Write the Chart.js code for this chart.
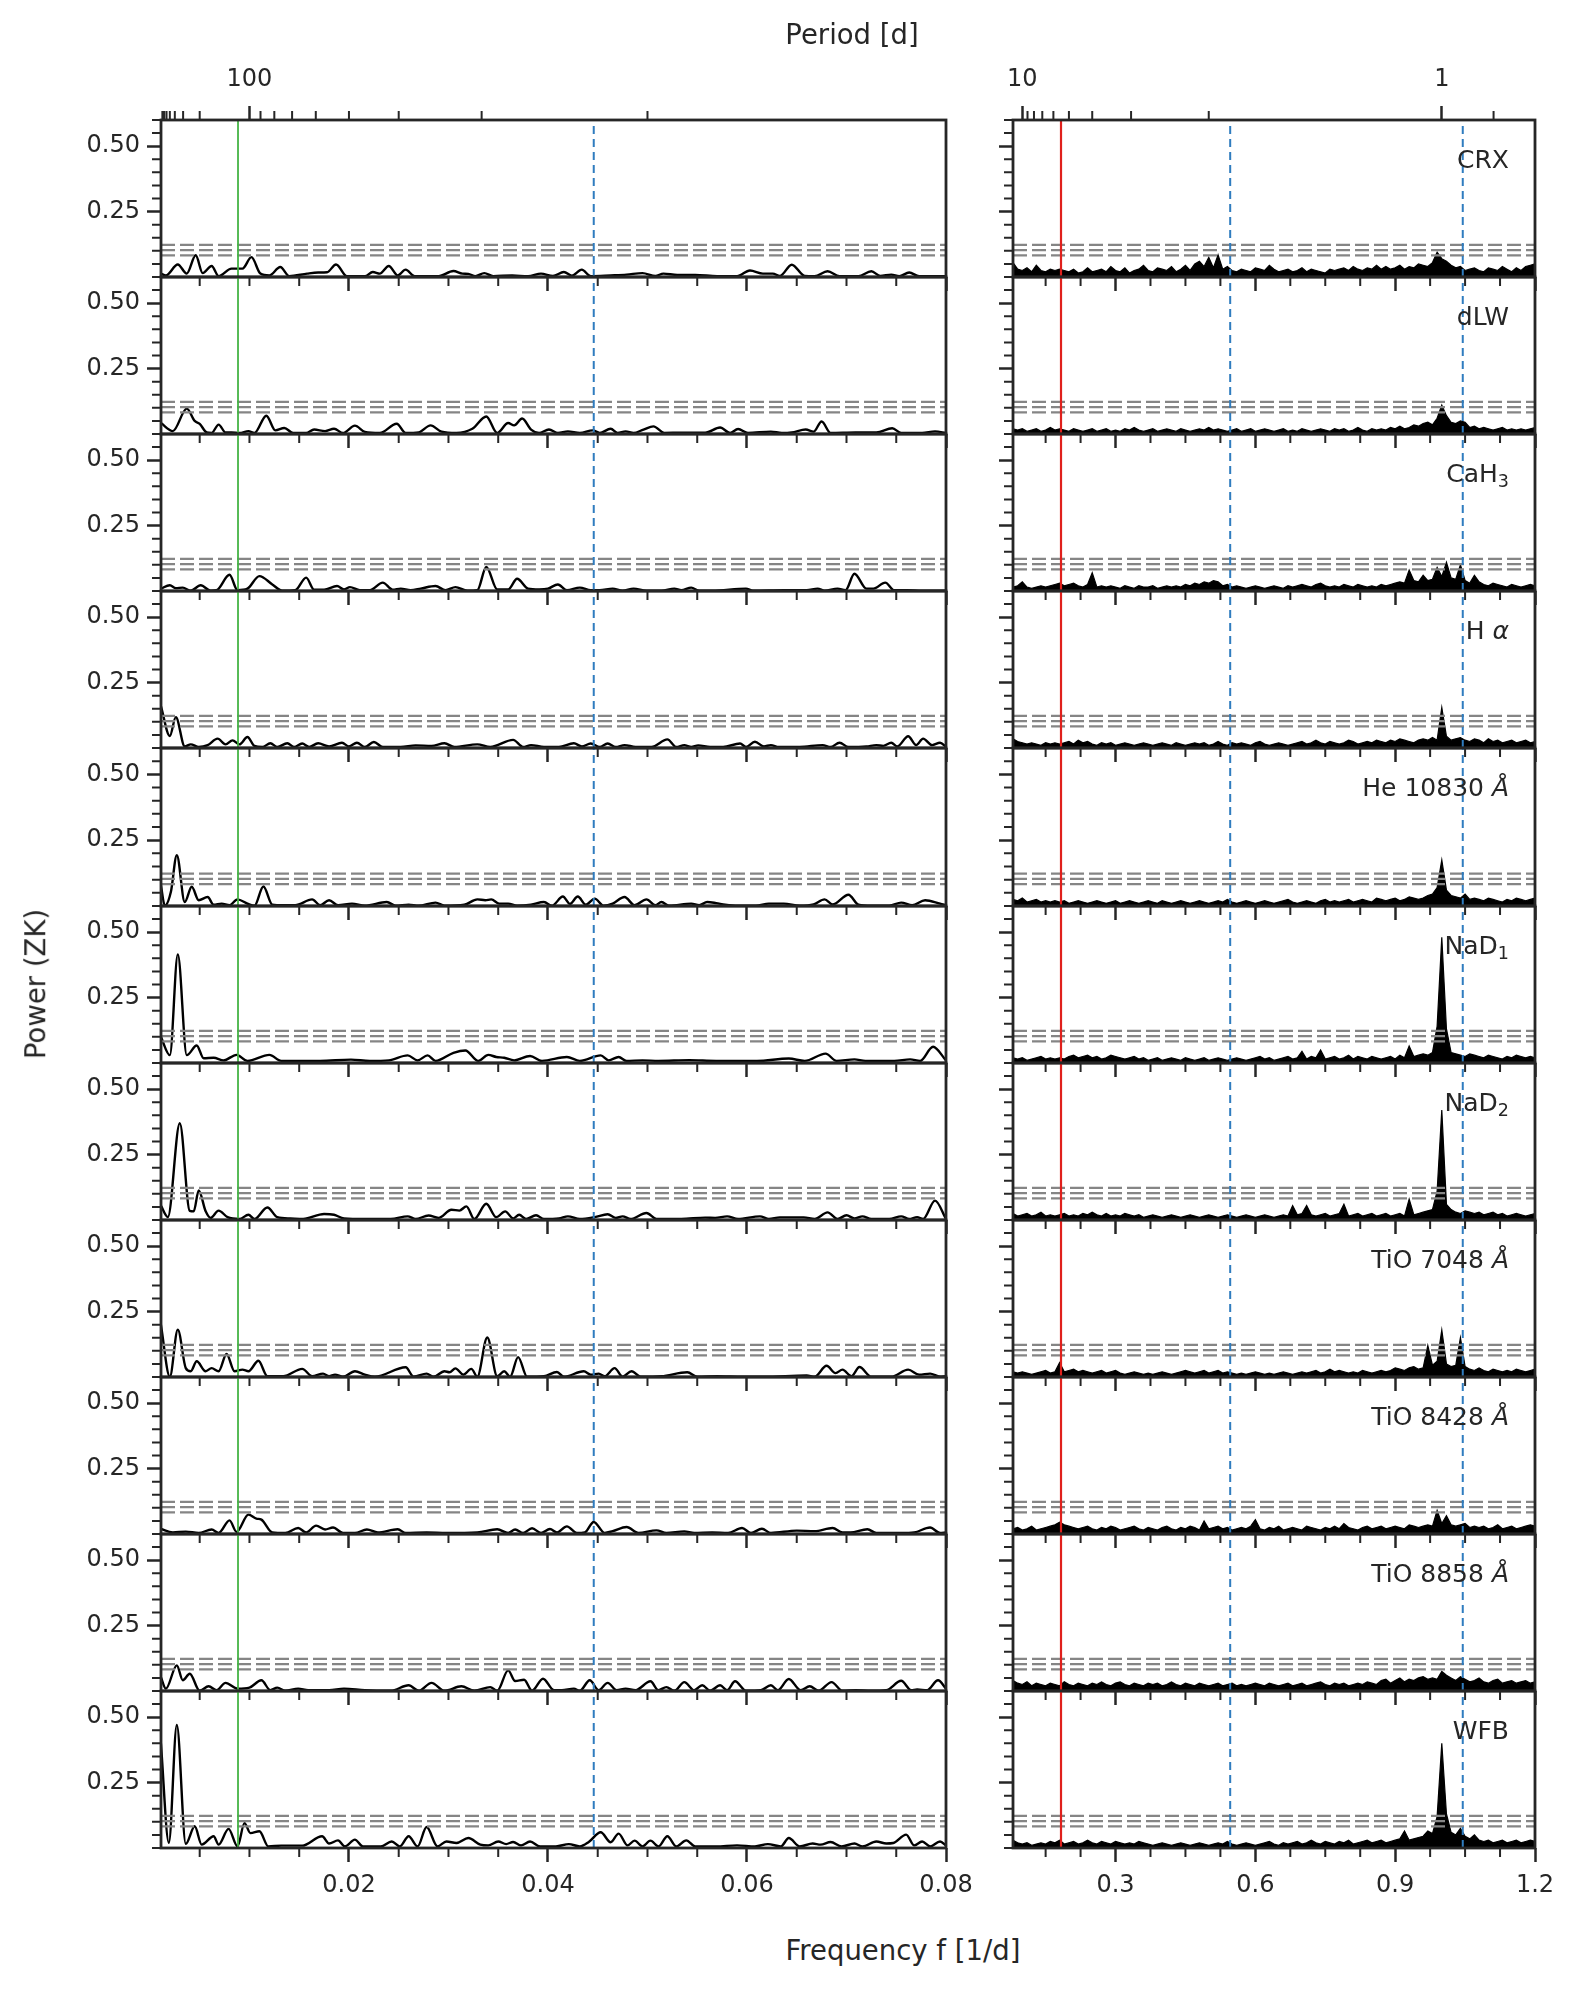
<!DOCTYPE html>
<html>
<head>
<meta charset="utf-8">
<script src="https://cdn.jsdelivr.net/npm/chart.js@4.4.0/dist/chart.umd.min.js"></script>
<style>
  body { margin: 0; background: #fff; }
  #fig { position: relative; width: 1578px; height: 1989px; overflow: hidden; font-family: "DejaVu Sans"; color: #262626; }
  #fig canvas { position: absolute; }
  .txt { position: absolute; white-space: nowrap; line-height: 1; }
  .lab { font-size: 25px; }
  .lab sub { font-size: 70%; vertical-align: -0.28em; line-height: 0; }
  .title { font-size: 27.5px; transform: translate(-50%, -50%); }
</style>
</head>
<body>
<div id="fig"></div>
<script>
// axis ranges
const LOW_MIN = 1 / 900, LOW_MAX = 0.08;
const HIGH_MIN = 0.08, HIGH_MAX = 1.2;
const P_MIN = 0, P_MAX = 0.6;

// ticks
const lowTicks = [0.02, 0.04, 0.06, 0.08];
const lowTickLabels = ['0.02', '0.04', '0.06', '0.08'];
const lowMinorTicks = [0.005, 0.01, 0.015, 0.025, 0.03, 0.035, 0.045, 0.05, 0.055, 0.065, 0.07, 0.075];
const highTicks = [0.3, 0.6, 0.9, 1.2];
const highTickLabels = ['0.3', '0.6', '0.9', '1.2'];
const highMinorTicks = [0.15, 0.225, 0.375, 0.45, 0.525, 0.675, 0.75, 0.825, 0.975, 1.05, 1.125];
const powerTicks = [0.25, 0.5];
const powerTickLabels = ['0.25', '0.50'];
const powerMinorTicks = [0, 0.05, 0.1, 0.15, 0.2, 0.3, 0.35, 0.4, 0.45, 0.55, 0.6];
const lowPeriodTicks = [100];
const lowPeriodLabels = ['100'];
const lowPeriodMinor = [800, 700, 600, 500, 400, 300, 200, 90, 80, 70, 60, 50, 40, 30, 20];
const highPeriodTicks = [10, 1];
const highPeriodLabels = ['10', '1'];
const highPeriodMinor = [9, 8, 7, 6, 5, 4, 3, 2, 0.9];

// false-alarm levels and marked frequencies [1/d]
const faLevels = [0.083, 0.103, 0.123];
const rotFreq = 0.00885;      // green
const lowAliasFreq = 0.0446;  // blue dashed (left)
const planetFreq = 0.183;     // red
const highAliasFreqs = [0.546, 1.045]; // blue dashed (right)

// right column frequency grid [1/d]
const highFreq = [0.08,0.09,0.10,0.11,0.12,0.13,0.14,0.15,0.16,0.17,0.18,0.19,0.20,0.21,0.22,0.23,0.24,0.25,0.26,0.27,
  0.28,0.29,0.30,0.31,0.32,0.33,0.34,0.35,0.36,0.37,0.38,0.39,0.40,0.41,0.42,0.43,0.44,0.45,0.46,0.47,
  0.48,0.49,0.50,0.51,0.52,0.53,0.54,0.55,0.56,0.57,0.58,0.59,0.60,0.61,0.62,0.63,0.64,0.65,0.66,0.67,
  0.68,0.69,0.70,0.71,0.72,0.73,0.74,0.75,0.76,0.77,0.78,0.79,0.80,0.81,0.82,0.83,0.84,0.85,0.86,0.87,
  0.88,0.89,0.90,0.91,0.92,0.93,0.94,0.95,0.96,0.97,0.98,0.99,1.00,1.01,1.02,1.03,1.04,1.05,1.06,1.07,
  1.08,1.09,1.10,1.11,1.12,1.13,1.14,1.15,1.16,1.17,1.18,1.19,1.20];

// left column: [frequency x 1e4, power x 1e3]
const crxLow = [[11,13],[16,6],[28,48],[37,13],[46,83],[53,15],[62,42],[69,3],[82,32],[93,32],[102,76],[111,13],[120,6],[131,38],[140,3],[158,13],[169,17],[178,18],[187,48],[198,3],[216,3],[224,19],[231,13],[240,42],[249,6],[257,28],[266,3],[290,3],[305,23],[314,13],[320,12],[327,3],[336,15],[345,3],[364,6],[380,3],[393,13],[405,4],[416,19],[424,5],[434,28],[443,3],[463,6],[479,9],[495,15],[508,4],[516,13],[530,8],[548,8],[570,3],[590,3],[603,25],[616,13],[626,13],[633,4],[645,47],[658,4],[668,3],[681,22],[693,3],[712,3],[725,22],[734,4],[745,9],[753,3],[763,17],[773,3],[800,3]];
const dlwLow = [[11,42],[23,11],[37,97],[45,50],[50,39],[57,6],[62,4],[69,36],[76,6],[82,6],[90,4],[99,11],[105,4],[117,70],[126,14],[135,23],[144,4],[157,4],[165,17],[176,11],[185,20],[194,4],[206,32],[216,8],[231,4],[248,39],[257,4],[270,6],[282,33],[293,9],[308,4],[324,20],[338,67],[349,4],[360,42],[366,33],[374,59],[383,17],[391,4],[401,17],[410,4],[420,10],[432,4],[445,14],[452,4],[463,20],[470,4],[478,10],[486,4],[496,17],[506,29],[517,4],[534,5],[558,5],[573,25],[583,4],[591,19],[601,4],[624,9],[635,4],[645,6],[659,17],[667,9],[675,48],[684,4],[709,6],[730,6],[746,22],[755,4],[776,4],[789,10],[800,4]];
const cah3Low = [[11,9],[20,22],[26,11],[33,13],[41,1],[51,22],[61,1],[67,3],[80,62],[88,3],[98,9],[110,57],[123,25],[133,1],[146,3],[157,51],[165,5],[175,5],[188,19],[195,6],[201,15],[211,3],[221,3],[234,32],[244,5],[252,9],[262,3],[272,9],[287,19],[297,3],[307,15],[319,1],[329,3],[338,92],[349,6],[360,6],[369,47],[380,9],[391,6],[400,9],[410,25],[419,3],[432,13],[443,3],[452,3],[465,9],[475,1],[486,9],[499,1],[514,1],[527,9],[534,3],[544,13],[552,1],[565,1],[599,9],[606,1],[637,3],[660,3],[671,9],[678,1],[691,9],[699,3],[708,66],[720,9],[727,9],[739,32],[748,3],[761,3],[776,1],[800,1]];
const haLow = [[11,160],[20,46],[26,118],[35,6],[41,14],[49,4],[58,11],[68,36],[76,14],[83,29],[90,14],[98,42],[105,8],[113,4],[121,18],[128,4],[138,18],[145,4],[153,17],[160,4],[169,18],[180,6],[193,20],[200,6],[208,20],[216,4],[225,23],[234,4],[252,4],[267,10],[283,8],[296,18],[306,4],[329,14],[342,4],[365,31],[375,4],[383,11],[396,4],[411,4],[426,18],[434,6],[443,17],[452,4],[460,17],[468,4],[477,11],[488,4],[504,4],[520,33],[529,4],[537,11],[544,4],[551,10],[563,4],[576,4],[593,17],[599,4],[608,24],[617,6],[624,11],[632,4],[653,4],[676,11],[684,4],[693,20],[702,4],[720,6],[730,11],[737,8],[745,20],[751,6],[762,45],[770,11],[777,36],[786,11],[794,20],[800,4]];
const heLow = [[11,79],[15,1],[21,53],[27,193],[35,15],[42,73],[49,22],[58,34],[64,5],[72,9],[80,3],[88,25],[98,9],[105,1],[114,74],[123,5],[134,3],[146,3],[163,25],[171,3],[180,22],[189,3],[203,9],[216,1],[238,15],[247,1],[260,5],[270,1],[287,13],[296,1],[316,5],[329,25],[337,22],[343,25],[351,9],[360,9],[369,1],[383,5],[396,15],[404,1],[415,36],[422,8],[430,36],[438,5],[447,28],[456,1],[465,9],[477,34],[487,3],[499,25],[508,3],[514,15],[522,1],[544,9],[552,3],[560,15],[569,11],[578,5],[591,1],[609,1],[622,9],[637,9],[653,1],[667,6],[678,25],[686,6],[702,43],[712,5],[725,1],[743,1],[755,13],[766,3],[779,22],[794,9],[800,3]];
const nad1Low = [[11,100],[20,30],[28,415],[37,30],[47,67],[54,18],[64,20],[74,10],[87,31],[98,8],[120,31],[132,8],[148,8],[171,8],[202,13],[221,8],[240,10],[259,29],[269,10],[279,29],[287,8],[305,39],[317,48],[330,8],[340,31],[348,23],[356,20],[366,10],[382,27],[394,8],[419,23],[432,8],[453,29],[461,10],[471,23],[479,8],[495,10],[511,8],[542,11],[569,8],[610,8],[642,17],[658,8],[679,36],[690,8],[708,14],[719,8],[748,8],[764,14],[774,8],[787,62],[800,10]];
const nad2Low = [[11,55],[18,11],[30,370],[40,35],[44,33],[49,113],[56,33],[61,8],[69,36],[78,11],[90,4],[99,20],[105,4],[118,48],[128,11],[141,6],[154,4],[175,23],[185,20],[195,6],[216,4],[242,4],[259,14],[267,4],[280,17],[290,8],[303,39],[311,36],[318,52],[326,4],[338,62],[348,11],[357,33],[365,6],[371,20],[378,4],[388,18],[396,4],[411,6],[420,14],[432,4],[447,11],[460,22],[468,8],[475,14],[483,4],[499,27],[509,4],[534,4],[558,9],[568,8],[580,14],[591,4],[613,14],[622,4],[633,10],[645,10],[657,10],[668,4],[681,29],[691,4],[700,18],[708,6],[716,14],[725,4],[743,4],[755,14],[763,4],[771,11],[777,4],[789,74],[800,4]];
const tio7048Low = [[11,200],[20,1],[28,181],[36,34],[41,22],[47,60],[56,22],[62,34],[69,22],[77,88],[85,22],[93,28],[99,22],[109,62],[118,3],[134,3],[153,31],[163,3],[174,13],[180,3],[186,9],[194,1],[206,22],[216,9],[226,1],[257,37],[265,1],[278,13],[285,1],[296,22],[301,18],[307,33],[315,9],[323,31],[329,1],[339,151],[349,3],[356,22],[362,1],[370,76],[379,1],[396,3],[409,19],[416,1],[436,22],[443,9],[451,13],[457,3],[467,34],[475,1],[484,22],[493,1],[514,3],[540,18],[550,1],[570,3],[596,1],[617,1],[660,6],[668,1],[680,43],[689,15],[696,28],[705,3],[713,38],[725,1],[745,1],[762,28],[773,9],[784,13],[794,1],[800,3]];
const tio8428Low = [[11,19],[23,6],[36,9],[49,4],[62,17],[69,4],[80,52],[87,8],[99,74],[107,59],[112,55],[123,6],[136,4],[149,23],[157,6],[167,32],[176,17],[184,25],[194,4],[206,4],[218,17],[229,6],[249,18],[257,4],[278,6],[298,4],[329,6],[349,18],[360,4],[367,17],[375,4],[384,22],[393,4],[402,19],[409,6],[419,29],[429,4],[437,6],[446,46],[457,4],[465,11],[479,27],[491,4],[509,14],[519,4],[537,10],[547,4],[565,6],[581,4],[595,23],[604,4],[615,20],[624,4],[650,13],[668,11],[686,23],[696,6],[704,6],[721,18],[730,4],[755,4],[768,6],[784,25],[794,4],[800,6]];
const tio8858Low = [[11,53],[16,9],[27,98],[33,41],[40,66],[50,1],[59,18],[67,3],[76,31],[88,9],[100,13],[112,41],[121,3],[128,13],[136,1],[149,9],[159,3],[180,3],[195,9],[216,3],[242,1],[260,22],[270,1],[283,31],[296,1],[313,18],[326,1],[342,15],[349,1],[360,79],[367,38],[376,43],[384,1],[395,47],[406,3],[414,3],[426,9],[432,1],[442,41],[451,3],[460,31],[469,3],[478,9],[488,3],[503,37],[511,3],[519,15],[527,1],[537,34],[547,3],[555,22],[563,1],[573,22],[580,3],[588,37],[599,1],[614,3],[624,22],[631,3],[642,46],[654,3],[663,18],[672,1],[685,34],[696,1],[709,3],[725,1],[740,3],[755,39],[765,3],[771,6],[781,3],[792,41],[800,9]];
const wfbLow = [[11,400],[19,20],[27,470],[36,16],[45,83],[52,13],[64,45],[69,13],[79,73],[88,6],[95,95],[101,57],[110,64],[119,6],[132,9],[153,9],[173,45],[180,17],[189,29],[196,6],[206,32],[214,6],[232,6],[243,25],[251,6],[260,45],[269,6],[278,80],[289,6],[298,25],[308,19],[320,38],[332,13],[340,10],[350,25],[358,15],[365,23],[373,10],[382,25],[392,6],[408,6],[421,15],[432,6],[441,23],[453,60],[463,22],[471,55],[480,10],[487,28],[495,6],[503,28],[511,6],[520,45],[529,6],[539,29],[548,6],[569,6],[590,10],[608,6],[621,15],[634,6],[642,38],[653,6],[666,17],[674,13],[684,23],[695,6],[708,17],[716,6],[730,25],[740,17],[747,19],[760,51],[768,10],[776,25],[784,6],[794,25],[800,9]];

// right column: power x 1e3 on highFreq
const crxHigh = [55,30,25,35,20,45,25,20,30,25, 30,25,20,30,15,20,35,20,25,30, 20,40,25,20,35,15,25,30,45,25, 20,35,30,25,40,20,30,45,25,50,
  60,40,75,35,85,30,40,25,20,30, 25,20,35,30,25,45,30,20,25,30, 20,25,35,20,30,25,20,15,30,25, 30,35,25,40,30,25,35,30,45,30,
  40,30,35,45,30,40,35,50,45,40, 55,95,70,60,45,35,40,25,30,35, 25,20,35,30,25,40,30,20,35,25,40,45,50];
const dlwHigh = [20,15,20,10,15,20,10,15,25,15, 20,15,10,20,15,10,15,20,10,15, 20,10,15,10,20,15,25,15,10,15, 20,10,15,20,15,10,20,15,10,15,
  20,15,25,15,20,15,10,15,20,10, 15,20,10,15,20,15,10,15,20,10, 15,10,20,15,10,15,20,15,10,20, 15,20,10,15,25,15,10,20,15,20,
  15,25,20,30,20,25,35,30,40,45, 35,60,110,70,45,40,50,45,25,30, 20,25,20,15,20,25,15,20,15,20,15,20,25];
const cah3High = [15,20,35,15,10,15,20,15,20,25, 30,20,25,30,20,15,25,70,15,20, 15,20,15,10,20,15,10,20,15,15, 20,10,15,20,15,20,15,25,20,30,
  25,35,30,40,35,20,25,15,20,15, 10,15,20,15,10,15,20,15,10,20, 15,20,25,20,15,25,30,20,15,20, 15,25,20,15,25,20,15,20,15,25,
  20,25,30,35,30,80,40,35,60,40, 45,90,55,110,50,45,100,40,30,60, 35,25,20,30,25,20,15,25,20,15,20,25,20];
const haHigh = [35,25,20,15,20,15,10,20,15,20, 15,20,25,15,30,20,25,15,10,20, 15,20,10,15,20,15,10,15,20,15, 10,15,20,15,10,20,15,10,15,20,
  15,20,10,15,25,15,10,20,15,20, 15,10,20,25,15,10,15,20,15,10, 15,20,25,15,20,30,20,15,25,20, 15,20,30,25,15,20,25,20,30,25,
  20,30,25,35,30,25,20,30,35,30, 40,30,155,45,30,35,40,30,25,35, 30,20,35,25,30,20,25,30,20,25,30,20,25];
const heHigh = [25,20,30,15,20,25,15,20,15,20, 15,20,10,15,20,15,10,15,20,15, 10,15,20,10,15,20,15,10,15,20, 15,10,20,15,10,15,20,15,10,15,
  20,15,10,15,20,15,25,15,10,15, 20,15,10,15,20,15,10,15,20,25, 15,10,15,20,15,10,20,25,15,20, 15,20,25,15,20,25,20,15,30,25,
  20,25,30,20,25,35,30,25,30,40, 45,70,175,60,40,35,30,45,25,30, 25,20,30,25,20,15,25,20,30,25,20,25,30];
const nad1High = [20,15,20,10,15,20,25,15,20,15, 20,15,25,30,20,25,30,20,25,15, 20,30,25,20,15,20,25,15,20,10, 15,20,10,15,20,15,10,20,15,10,
  15,20,10,15,20,15,10,15,20,15, 10,15,20,25,15,20,10,15,20,25, 15,20,45,15,25,20,50,15,20,25, 15,20,30,15,25,20,15,25,20,15,
  20,25,15,30,20,65,25,30,35,30, 40,140,480,130,40,35,30,25,35,30, 25,20,30,25,20,15,25,20,30,25,20,25,20];
const nad2High = [25,15,20,25,15,20,30,15,20,15, 20,25,15,20,15,25,20,30,20,15, 25,15,20,15,25,20,15,20,10,15, 20,15,10,15,20,15,10,15,20,15,
  10,15,20,15,10,15,20,15,10,15, 20,15,10,15,20,15,10,15,20,15, 55,20,25,55,20,15,20,25,15,20, 25,60,15,20,25,15,20,25,15,20,
  25,15,20,25,15,80,20,25,30,35, 40,110,420,60,40,30,25,35,30,25, 30,20,25,30,20,25,15,20,25,20,15,20,25];
const tio7048High = [20,15,20,15,10,15,20,25,15,20, 55,20,25,30,20,25,20,15,20,25, 15,20,25,15,10,15,20,15,10,15, 10,15,20,15,10,15,20,25,20,15,
  20,25,15,20,25,15,20,15,10,15, 10,15,20,15,10,15,10,15,20,15, 10,15,20,15,20,25,15,20,30,20, 25,20,15,20,15,25,20,15,20,25,
  20,25,35,30,25,35,40,30,35,120, 45,60,180,50,40,45,150,40,30,25, 35,25,20,30,25,20,25,20,30,25,20,25,30];
const tio8428High = [20,25,15,20,30,15,20,25,30,35, 45,35,30,25,20,25,30,20,15,25, 20,30,25,15,20,25,30,20,15,25, 20,15,25,30,20,15,25,20,30,25,
  15,50,20,25,30,20,25,15,20,25, 20,30,55,20,15,25,20,30,15,20, 25,20,15,30,25,20,15,25,20,30, 20,40,25,20,15,25,30,20,25,30,
  20,25,30,25,20,35,30,25,30,35, 30,90,40,70,35,30,35,40,25,30, 25,30,20,25,35,20,25,30,20,25,30,35,30];
const tio8858High = [40,30,25,35,20,30,25,20,30,25, 20,35,25,20,30,25,20,30,25,35, 25,20,30,35,25,20,30,25,20,30, 25,30,20,25,35,25,20,30,25,20,
  30,25,20,25,30,20,25,30,20,25, 20,25,30,25,20,30,25,20,25,30, 20,25,30,20,25,30,35,25,20,30, 25,30,20,25,30,25,35,30,25,40,
  45,30,40,50,35,45,40,50,55,45, 50,45,75,60,50,40,55,45,35,40, 50,35,30,40,45,30,35,40,30,35,40,30,35];
const wfbHigh = [30,20,15,20,10,15,20,15,25,20, 30,15,20,25,15,20,30,20,15,25, 20,15,25,20,15,20,15,25,20,15, 10,15,20,15,10,15,20,15,10,15,
  20,15,10,15,20,15,25,15,10,15, 20,15,10,15,20,25,15,10,20,15, 20,25,15,20,30,20,15,25,20,15, 25,20,30,15,20,25,30,20,25,30,
  20,25,30,35,65,30,35,40,45,65, 55,120,400,130,60,50,75,45,35,50, 30,25,30,20,25,30,20,25,30,20,25,30,25];

const PANELS = [
  { label: 'CRX', low: crxLow, high: crxHigh },
  { label: 'dLW', low: dlwLow, high: dlwHigh },
  { label: 'CaH<sub>3</sub>', low: cah3Low, high: cah3High },
  { label: 'H <i>α</i>', low: haLow, high: haHigh },
  { label: 'He 10830 <i>Å</i>', low: heLow, high: heHigh },
  { label: 'NaD<sub>1</sub>', low: nad1Low, high: nad1High },
  { label: 'NaD<sub>2</sub>', low: nad2Low, high: nad2High },
  { label: 'TiO 7048 <i>Å</i>', low: tio7048Low, high: tio7048High },
  { label: 'TiO 8428 <i>Å</i>', low: tio8428Low, high: tio8428High },
  { label: 'TiO 8858 <i>Å</i>', low: tio8858Low, high: tio8858High },
  { label: 'WFB', low: wfbLow, high: wfbHigh },
];

// layout (px)
const INK = '#262626';
const FIG_TOP = 120, ROW_H = 157.1;
const COLS = [
  { x0: 161, x1: 946, marginL: 161 },
  { x0: 1013, x1: 1535, marginL: 60 },
];
const MARGIN_R = 40, MARGIN_T = 6;
const MAJOR_LEN = 14, MINOR_LEN = 9;

Chart.defaults.font.family = 'DejaVu Sans';
Chart.defaults.font.size = 24;
Chart.defaults.color = INK;

const fig = document.getElementById('fig');

function addText(html, cls, style) {
  const d = document.createElement('div');
  d.className = 'txt ' + cls;
  d.innerHTML = html;
  Object.assign(d.style, style);
  fig.appendChild(d);
}

// fixed box size and no label overhang padding, so every plot area lands on the grid
function fixSize(prop, size) {
  return s => {
    s[prop] = size;
    s.paddingTop = s.paddingBottom = s.paddingLeft = s.paddingRight = 0;
  };
}

function framePlugin(xMinor, topMinor) {
  return {
    id: 'frame',
    afterDraw(chart) {
      const { ctx, chartArea: a, scales } = chart;
      ctx.save();
      ctx.strokeStyle = INK;
      ctx.lineWidth = 2;
      ctx.beginPath();
      xMinor.forEach(v => {
        const px = scales.x.getPixelForValue(v);
        ctx.moveTo(px, a.bottom); ctx.lineTo(px, a.bottom + MINOR_LEN);
      });
      powerMinorTicks.forEach(v => {
        const py = scales.y.getPixelForValue(v);
        ctx.moveTo(a.left, py); ctx.lineTo(a.left - MINOR_LEN, py);
      });
      if (scales.xTop) {
        topMinor.forEach(P => {
          const px = scales.xTop.getPixelForValue(1 / P);
          ctx.moveTo(px, a.top); ctx.lineTo(px, a.top - MINOR_LEN);
        });
      }
      ctx.stroke();
      ctx.lineWidth = 2.8;
      ctx.strokeRect(a.left, a.top, a.right - a.left, a.bottom - a.top);
      ctx.restore();
    }
  };
}

function tickGrid() {
  return { display: true, drawOnChartArea: false, drawTicks: true, tickLength: MAJOR_LEN, tickWidth: 2.5, tickColor: INK };
}

function makePanel(row, col, panel) {
  const last = row === PANELS.length - 1;
  const c = COLS[col];
  const rowTop = Math.round(FIG_TOP + row * ROW_H);
  const rowBot = Math.round(FIG_TOP + (row + 1) * ROW_H);
  const marginT = row === 0 ? rowTop : MARGIN_T;
  const marginB = last ? 70 : 20;
  const top = rowTop - marginT;
  const left = c.x0 - c.marginL;
  const width = c.marginL + (c.x1 - c.x0) + MARGIN_R;
  const height = rowBot - top + marginB;

  const canvas = document.createElement('canvas');
  canvas.width = width; canvas.height = height;
  canvas.style.left = left + 'px'; canvas.style.top = top + 'px';
  fig.appendChild(canvas);

  const isLow = col === 0;
  const xMin = isLow ? LOW_MIN : HIGH_MIN, xMax = isLow ? LOW_MAX : HIGH_MAX;
  const majors = isLow ? lowTicks : highTicks;
  const majorLabels = isLow ? lowTickLabels : highTickLabels;
  const periods = isLow ? lowPeriodTicks : highPeriodTicks;
  const periodLabels = isLow ? lowPeriodLabels : highPeriodLabels;

  const series = isLow
    ? panel.low.map(([f, p]) => ({ x: f / 1e4, y: p / 1e3 }))
    : panel.high.map((p, i) => ({ x: highFreq[i], y: p / 1e3 }));

  const datasets = [];
  const vline = (f, color, width, dash) => datasets.push({
    data: [{ x: f, y: P_MIN }, { x: f, y: P_MAX }], borderColor: color, borderWidth: width, borderDash: dash, order: 0
  });
  if (isLow) {
    vline(rotFreq, '#45b345', 1.8, []);
    vline(lowAliasFreq, '#2f7cbf', 2, [8, 5]);
  } else {
    vline(planetFreq, '#e0201c', 2.2, []);
    highAliasFreqs.forEach(f => vline(f, '#2f7cbf', 2, [8, 5]));
  }
  faLevels.forEach(l => datasets.push({
    data: [{ x: xMin, y: l }, { x: xMax, y: l }], borderColor: '#858585', borderWidth: 2.2, borderDash: [14, 5], order: 1
  }));
  datasets.push({
    data: series, borderColor: '#000', borderWidth: isLow ? 2.4 : 1.2,
    cubicInterpolationMode: isLow ? 'monotone' : 'default', tension: 0,
    fill: isLow ? false : 'origin', backgroundColor: '#000', order: 2
  });

  const scales = {
    x: {
      type: 'linear', position: 'bottom', min: xMin, max: xMax,
      afterBuildTicks: s => { s.ticks = majors.map(v => ({ value: v })); },
      afterFit: fixSize('height', marginB),
      grid: tickGrid(), border: { display: false },
      ticks: { display: last, autoSkip: false, maxRotation: 0, padding: 9, callback: (v, i) => majorLabels[i] }
    },
    y: {
      type: 'linear', position: 'left', min: P_MIN, max: P_MAX,
      afterBuildTicks: s => { s.ticks = powerTicks.map(v => ({ value: v })); },
      afterFit: fixSize('width', c.marginL),
      grid: tickGrid(), border: { display: false },
      ticks: { display: isLow, autoSkip: false, padding: 7, callback: (v, i) => powerTickLabels[i] }
    }
  };
  if (row === 0) {
    scales.xTop = {
      type: 'linear', position: 'top', min: xMin, max: xMax,
      afterBuildTicks: s => { s.ticks = periods.map(P => ({ value: 1 / P })); },
      afterFit: fixSize('height', marginT),
      grid: tickGrid(), border: { display: false },
      ticks: { display: true, autoSkip: false, maxRotation: 0, padding: 12, callback: (v, i) => periodLabels[i] }
    };
  }

  new Chart(canvas, {
    type: 'line',
    data: { datasets },
    options: {
      responsive: false, animation: false, devicePixelRatio: 1,
      layout: { padding: { left: 0, right: MARGIN_R, top: row === 0 ? 0 : MARGIN_T, bottom: 0 } },
      elements: { point: { radius: 0 } },
      plugins: { legend: { display: false }, tooltip: { enabled: false } },
      scales
    },
    plugins: [framePlugin(isLow ? lowMinorTicks : highMinorTicks, isLow ? lowPeriodMinor : highPeriodMinor)]
  });

  if (!isLow) {
    addText(panel.label, 'lab', { right: (1578 - 1509) + 'px', top: (FIG_TOP + row * ROW_H + 39 - 12) + 'px' });
  }
}

PANELS.forEach((p, r) => { makePanel(r, 0, p); makePanel(r, 1, p); });

addText('Period [d]', 'title', { left: '852px', top: '35px' });
addText('Frequency f [1/d]', 'title', { left: '903px', top: '1951px' });
addText('Power (ZK)', 'title', { left: '36px', top: '984px', transform: 'translate(-50%, -50%) rotate(-90deg)' });
</script>
</body>
</html>
